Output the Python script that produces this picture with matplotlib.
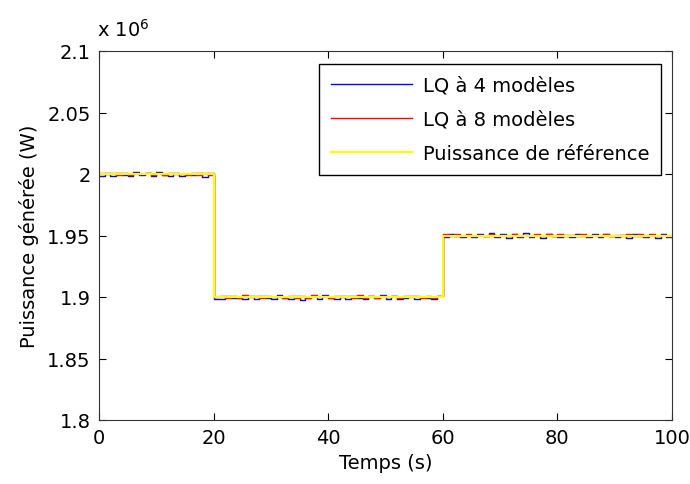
import numpy as np
from matplotlib import pyplot as plt

plt.rcParams['font.family'] = ['DejaVu Sans']

# time (s), one sample per second
temps = np.arange(0, 101)

# reference power steps (x 1e6 W)
ref_levels = [2.0, 1.9, 1.95]
ref_switch = [20, 60]

# deviation of the LQ outputs from the reference, in kW
dev_lq4 = [-1.5, 0.5, -1.8, 1.2, -0.8, -2.0, 1.5, -1.2, 0.8, -1.9,
           1.6, -0.6, -1.4, 0.9, -1.7, 0.4, -1.0, 1.1, -2.1, 0.7,
           -1.3, -1.6, 0.8, -1.2, -0.5, -1.9, 1.0, -1.4, 0.6, -0.9,
           -1.7, 1.3, -0.7, -1.5, 0.9, -2.2, -1.1, 0.5, -1.8, 1.4,
           -0.8, -1.3, 0.7, -1.6, 1.2, -0.6, -2.0, 0.9, -1.1, 1.6,
           -1.4, 0.6, -1.8, -0.7, 1.1, -1.5, 0.4, -1.2, -1.9, 0.8,
           -1.0, 1.3, -0.8, -1.6, 0.7, -1.2, 1.0, -0.5, 1.8, -1.4,
           0.9, -1.7, 1.5, -0.9, 2.0, -1.3, 0.6, -1.8, 1.2, -0.7,
           -1.5, 0.8, -1.1, 1.4, -0.6, -1.6, 0.9, -1.2, 1.1, -0.8,
           -1.4, 0.7, -1.9, 1.0, -0.5, -1.3, 0.8, -1.7, 1.2, -1.0,
           -1.2]
dev_lq8 = [0.8, -0.4, 1.0, -0.6, 0.5, -0.9, 0.7, -0.3, 1.1, -0.5,
           0.6, -0.8, 0.9, -0.4, 0.3, -0.7, 1.2, -0.5, 0.8, -0.6,
           0.4, 1.1, -0.5, 0.7, -0.8, 1.3, -0.4, 0.6, -0.9, 1.0,
           -0.3, 0.8, -0.6, 1.2, -0.5, 0.7, -0.8, 1.4, -0.4, 0.5,
           -0.7, 1.1, -0.3, 0.9, -0.6, 1.3, -0.5, 0.6, -0.8, 1.0,
           -0.4, 1.2, -0.6, 0.7, -0.3, 0.9, -0.7, 1.1, -0.5, 0.6,
           1.2, -0.4, 0.9, -0.7, 1.3, -0.5, 0.8, -0.6, 1.0, -0.3,
           0.7, -0.8, 1.1, -0.4, 0.6, -0.7, 1.4, -0.5, 0.9, -0.6,
           1.0, -0.3, 0.8, -0.7, 1.2, -0.4, 0.6, -0.8, 1.1, -0.5,
           0.7, -0.6, 1.3, -0.4, 0.9, -0.7, 1.0, -0.5, 0.8, -0.3,
           0.6]

reference = np.where(temps < ref_switch[0], ref_levels[0],
                     np.where(temps < ref_switch[1], ref_levels[1], ref_levels[2]))
lq4 = reference + np.array(dev_lq4) / 1000.0
lq8 = reference + np.array(dev_lq8) / 1000.0

fig = plt.figure(figsize=(6.9, 4.85), dpi=100)
ax = fig.add_axes([99 / 690, 64 / 485, 573 / 690, 369 / 485])

ax.plot(temps, lq4, color='blue', lw=1.0, drawstyle='steps-post', label='LQ à 4 modèles')
ax.plot(temps, lq8, color='red', lw=1.0, drawstyle='steps-post', label='LQ à 8 modèles')
ax.plot(temps, reference, color='yellow', lw=1.6, drawstyle='steps-post',
        label='Puissance de référence')

ax.set_xlim(0, 100)
ax.set_ylim(1.8, 2.1)
ax.set_xticks([0, 20, 40, 60, 80, 100])
ax.set_yticks([1.8, 1.85, 1.9, 1.95, 2.0, 2.05, 2.1])
ax.set_yticklabels(['1.8', '1.85', '1.9', '1.95', '2', '2.05', '2.1'])
ax.tick_params(direction='in', top=True, right=True, labelsize=14, length=5, pad=6)
for s in ax.spines.values():
    s.set_color('#333333')
ax.text(-0.003, 1.03, r'x 10$^{6}$', transform=ax.transAxes, fontsize=14, ha='left', va='bottom')

ax.set_xlabel('Temps (s)', fontsize=14, labelpad=4)
ax.set_ylabel('Puissance générée (W)', fontsize=14, labelpad=6)

leg = ax.legend(loc='upper right', bbox_to_anchor=(0.981, 0.965), borderaxespad=0,
                fontsize=14, handlelength=4.2, handletextpad=0.55, fancybox=False,
                framealpha=1, edgecolor='black', borderpad=0.6, labelspacing=0.78)
leg.get_frame().set_linewidth(1.0)

plt.savefig('out.png', dpi=100)
